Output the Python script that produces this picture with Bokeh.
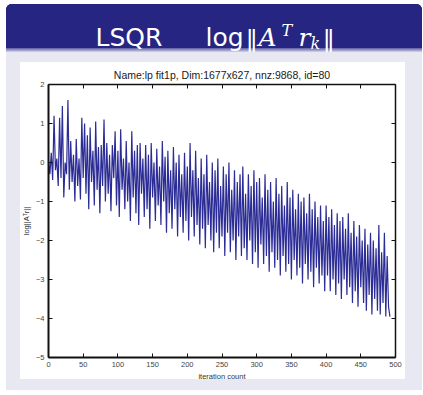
from bokeh.plotting import figure
from bokeh.layouts import column
from bokeh.models import Range1d, LinearAxis, FixedTicker, ColumnDataSource
from bokeh.core.properties import value
from bokeh.embed import file_html
from bokeh.resources import INLINE

# ---------------- data ----------------
iters = list(range(0, 493, 2))
log_atr = [
    0.05, -0.3, 0.25, -0.45, 1.2, -0.2, 0.1, -0.6, 1.15, -0.4,
    1.45, -0.9, 0.0, -0.3, 1.6, -0.7, 0.55, -0.5, 0.2, -1.0,
    0.6, -0.6, 0.1, -0.95, 1.15, -0.4, 1.0, -0.8, 0.7, -1.2,
    0.9, -0.5, 0.3, -1.1, 1.05, -0.7, 0.4, -1.3, 0.45, -0.6,
    1.1, -1.0, 0.5, -0.8, 0.2, -1.25, 0.45, -0.4, 0.8, -1.1,
    0.3, -1.4, 0.85, -0.7, 0.1, -1.2, 0.55, -1.0, 0.0, -1.5,
    0.8, -0.9, 0.3, -1.3, 0.45, -1.6, 0.5, -0.8, 0.1, -1.4,
    0.45, -1.2, 0.2, -1.7, 0.5, -0.9, 0.0, -1.5, 0.35, -1.1,
    -0.1, -1.6, 0.55, -1.0, 0.15, -1.8, 0.3, -1.3, -0.2, -1.7,
    0.4, -1.2, 0.0, -1.9, 0.2, -1.4, -0.3, -1.8, 0.25, -1.5,
    -0.1, -2.0, 0.5, -1.4, -0.2, -1.9, 0.3, -1.6, -0.4, -2.1,
    0.1, -1.7, -0.3, -2.2, 0.2, -1.6, -0.5, -2.0, 0.0, -2.3,
    -0.2, -1.8, 0.1, -2.2, -0.6, -1.9, -0.1, -2.4, -0.3, -1.8,
    0.0, -2.3, -0.7, -2.0, -0.2, -2.5, -0.5, -1.9, -0.3, -2.4,
    -0.1, -2.2, -0.8, -2.5, -0.3, -2.0, -0.6, -2.6, -0.2, -2.3,
    -0.5, -2.7, -0.4, -2.1, -0.9, -2.6, -0.3, -2.4, -0.7, -2.8,
    -0.5, -2.3, -1.0, -2.7, -0.4, -2.5, -0.8, -2.9, -0.6, -2.4,
    -1.1, -2.8, -0.5, -2.6, -0.9, -3.0, -0.7, -2.5, -1.2, -2.9,
    -0.8, -2.7, -1.0, -3.1, -0.9, -2.6, -1.3, -3.0, -0.8, -2.8,
    -1.2, -3.2, -1.0, -2.7, -1.4, -3.1, -1.1, -2.9, -1.5, -3.3,
    -1.1, -2.9, -1.4, -3.3, -1.2, -3.0, -1.6, -3.4, -1.3, -3.1,
    -1.5, -3.5, -1.4, -3.0, -1.7, -3.4, -1.3, -3.2, -1.8, -3.6,
    -1.5, -3.3, -1.9, -3.7, -1.6, -3.2, -2.0, -3.6, -1.7, -3.8,
    -2.1, -3.4, -1.8, -3.9, -2.0, -3.5, -2.2, -3.8, -1.6, -3.9,
    -2.3, -3.6, -1.8, -3.95, -2.4, -3.7, -3.95,
]
x_ticks = [0, 50, 100, 150, 200, 250, 300, 350, 400, 450, 500]
y_ticks = [-5, -4, -3, -2, -1, 0, 1, 2]
y_tick_labels = ["\u22125", "\u22124", "\u22123", "\u22122", "\u22121", "0", "1", "2"]
chart_title = "Name:lp fit1p, Dim:1677x627, nnz:9868, id=80"
x_label = "iteration count"
y_label = "log||A\u1d40r||"
slide_title = "LSQR"

# ---------------- styles ----------------
HEADER = "#262682"
LAVENDER = "#e8e8f2"
LINE = "#2c2c96"
FONT = "Liberation Sans"
W = 423
BL, BR = 48, 28  # left / right borders shared by both canvases

# ---------- slide header: painted with CSS, texts as glyphs in canvas-pixel coordinates ----------
HH = 52
hdr = figure(width=W, height=HH, output_backend="svg", toolbar_location=None,
             x_range=Range1d(BL, W - BR), y_range=Range1d(HH, 0),
             x_axis_location=None, y_axis_location=None,
             min_border_left=BL, min_border_right=BR, min_border_top=0, min_border_bottom=0)
hdr.grid.visible = False
hdr.outline_line_color = None
hdr.background_fill_color = None
hdr.border_fill_color = None
corner = "radial-gradient(circle at 5px 5px, %s 4.6px, transparent 5.2px)" % HEADER
hdr.styles = {"background": ", ".join([
    "linear-gradient(%s, %s) 6px 9px / 416px 39px no-repeat" % (HEADER, HEADER),
    "linear-gradient(%s, %s) 11px 4px / 406px 6px no-repeat" % (HEADER, HEADER),
    corner + " 6px 4px / 10px 10px no-repeat",
    corner + " 412px 4px / 10px 10px no-repeat",
    "linear-gradient(#5c5ca6, #d6d6e8) 6px 48px / 416px 4px no-repeat",
])}
hdr.text(x=[95, 205], y=[37, 37], text=[slide_title, "log"], text_font=value("DejaVu Sans"),
         text_font_size="25px", text_color="white", text_baseline="alphabetic")
hdr.text(x=[245, 322], y=[38, 38], text=["\u2016", "\u2016"], text_font=value("DejaVu Serif"),
         text_font_size="25px", text_color="white", text_baseline="alphabetic")
hdr.text(x=[258, 298], y=[37, 37], text=["A", "r"], text_font=value("DejaVu Serif"),
         text_font_size="25px", text_font_style="italic", text_color="white", text_baseline="alphabetic")
hdr.text(x=[281, 310], y=[30, 43], text=["T", "k"], text_font=value("DejaVu Serif"),
         text_font_size="16px", text_font_style="italic", text_color="white", text_baseline="alphabetic")

# ---------- chart ----------
CH = 343
p = figure(width=W, height=CH, output_backend="svg", toolbar_location=None,
           x_range=Range1d(0, 500), y_range=Range1d(-5, 2),
           x_axis_location=None, y_axis_location=None,
           min_border_left=BL, min_border_right=BR, min_border_top=32, min_border_bottom=38)
p.grid.visible = False
p.border_fill_color = None
p.background_fill_color = "white"
p.outline_line_color = None
p.styles = {"background": "linear-gradient(#ffffff, #ffffff) 20px 10px / 385px 317px no-repeat, "
                          "linear-gradient(%s, %s) 6px 0px / 416px 338px no-repeat" % (LAVENDER, LAVENDER)}


def make_axis(ticks, lw, labels=None, title=None, title_size="7.5px", title_color="#333333"):
    ax = LinearAxis(ticker=FixedTicker(ticks=ticks))
    ax.major_tick_in = 4
    ax.major_tick_out = 0
    ax.minor_tick_line_color = None
    ax.axis_line_width = lw
    ax.axis_line_color = "#111111"
    ax.major_tick_line_color = "#111111"
    ax.major_tick_line_width = 1
    ax.major_label_text_font = FONT
    ax.major_label_text_font_size = "7.5px"
    ax.major_label_text_color = "#444444"
    ax.major_label_standoff = 4
    if labels is not None:
        ax.major_label_overrides = labels
    if title is not None:
        ax.axis_label = title
        ax.axis_label_text_font = FONT
        ax.axis_label_text_font_size = title_size
        ax.axis_label_text_font_style = "normal"
        ax.axis_label_text_color = title_color
        ax.axis_label_standoff = 2
    return ax


bottom = make_axis(x_ticks, 2, title=x_label)
left = make_axis(y_ticks, 2, labels={t: s for t, s in zip(y_ticks, y_tick_labels)}, title=y_label)
top = make_axis(x_ticks, 1.5, labels={t: "" for t in x_ticks}, title=chart_title,
                title_size="10.5px", title_color="#1a1a1a")
top.major_label_standoff = 0
top.axis_label_standoff = 4
right = make_axis(y_ticks, 1.5, labels={t: "" for t in y_ticks})
p.add_layout(bottom, "below")
p.add_layout(left, "left")
p.add_layout(top, "above")
p.add_layout(right, "right")

src = ColumnDataSource(data=dict(x=iters, y=log_atr))
p.line("x", "y", source=src, line_color=LINE, line_width=1.2)

layout = column(hdr, p, spacing=0)
open("out.html", "w").write(file_html(layout, INLINE))
